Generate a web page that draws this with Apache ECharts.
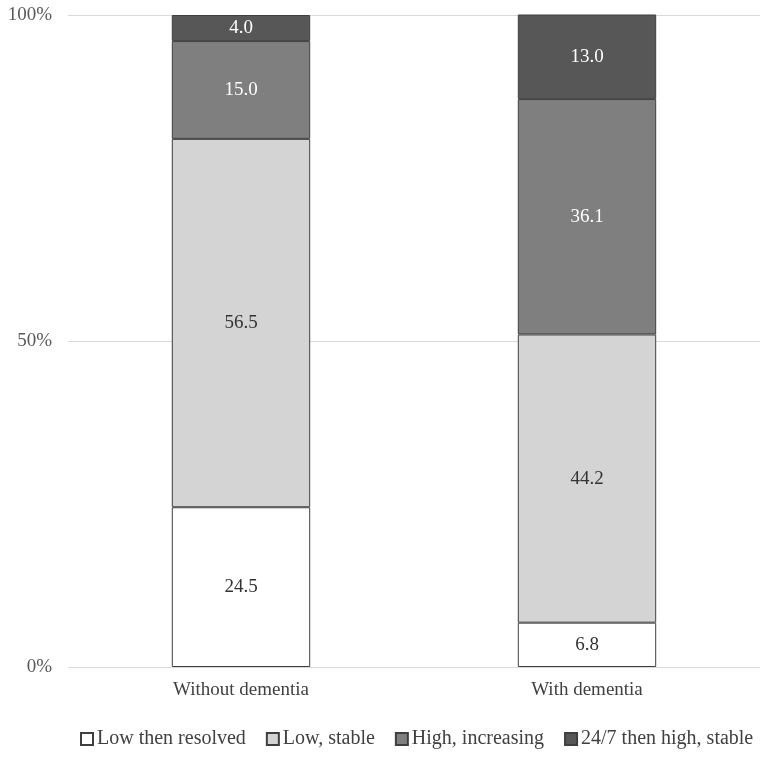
<!DOCTYPE html>
<html>
<head>
<meta charset="utf-8">
<script src="https://cdn.jsdelivr.net/npm/echarts@6/dist/echarts.min.js"></script>
<style>
  html, body { margin: 0; padding: 0; background: #fff; }
  #chart { width: 768px; height: 758px; }
</style>
</head>
<body>
<div id="chart"></div>
<script>
// categories and values
const categories = ['Without dementia', 'With dementia'];
const seriesNames = ['Low then resolved', 'Low, stable', 'High, increasing', '24/7 then high, stable'];
const lowResolved = [24.5, 6.8];
const lowStable = [56.5, 44.2];
const highIncreasing = [15.0, 36.1];
const highStable = [4.0, 13.0];
const yTicks = [0, 50, 100];

const fills = ['#ffffff', '#d4d4d4', '#7f7f7f', '#575757'];
const labelColors = ['#333333', '#333333', '#ffffff', '#ffffff'];
const serif = '"Liberation Serif", "DejaVu Serif", serif';

const chart = echarts.init(document.getElementById('chart'));

const makeSeries = (name, data, i) => ({
  name: name,
  type: 'bar',
  stack: 'total',
  data: data,
  barWidth: '40%',
  itemStyle: {
    color: fills[i],
    borderColor: '#3f3f3f',
    borderWidth: 1
  },
  label: {
    show: true,
    position: 'inside',
    formatter: (p) => p.value.toFixed(1),
    color: labelColors[i],
    fontFamily: serif,
    fontSize: 19
  }
});

const option = {
  animation: false,
  backgroundColor: '#ffffff',
  grid: {
    left: 68,
    right: 8,
    top: 15,
    bottom: 91
  },
  legend: {
    bottom: 4,
    left: 75,
    itemWidth: 12,
    itemHeight: 12,
    itemGap: 20,
    icon: 'rect',
    textStyle: {
      fontFamily: serif,
      fontSize: 20,
      color: '#404040',
      padding: [0, 0, 0, -1]
    },
    data: seriesNames
  },
  xAxis: {
    type: 'category',
    data: categories,
    axisLine: { show: false },
    axisTick: { show: false },
    axisLabel: {
      fontFamily: serif,
      fontSize: 19,
      color: '#404040',
      margin: 14
    }
  },
  yAxis: {
    type: 'value',
    min: yTicks[0],
    max: yTicks[yTicks.length - 1],
    interval: 50,
    axisLine: { show: false },
    axisTick: { show: false },
    axisLabel: {
      formatter: '{value}%',
      fontFamily: serif,
      fontSize: 19,
      color: '#595959',
      margin: 16
    },
    splitLine: {
      lineStyle: { color: '#d9d9d9', width: 1 }
    }
  },
  series: [
    makeSeries(seriesNames[0], lowResolved, 0),
    makeSeries(seriesNames[1], lowStable, 1),
    makeSeries(seriesNames[2], highIncreasing, 2),
    makeSeries(seriesNames[3], highStable, 3)
  ]
};

chart.setOption(option);
</script>
</body>
</html>
